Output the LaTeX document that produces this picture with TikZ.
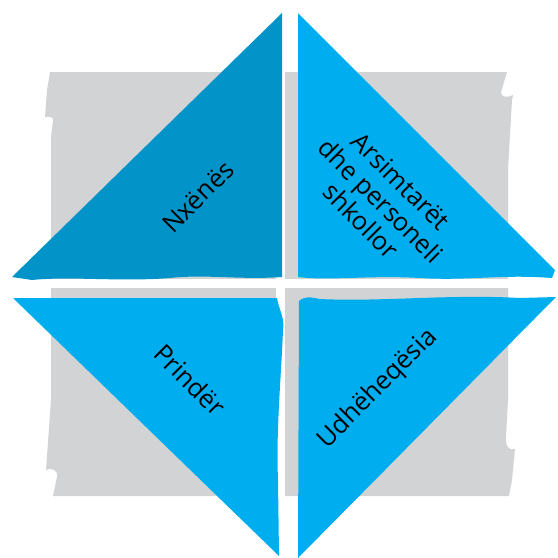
\documentclass[tikz,border=0pt]{standalone}
\usepackage{fontspec}
\setmainfont{Open Sans}
\definecolor{darkblue}{HTML}{0294C8}
\definecolor{lightblue}{HTML}{00AEEF}
\definecolor{panelgray}{HTML}{D1D3D4}

\begin{document}
\begin{tikzpicture}[x=1pt, y=-1pt,
			darktri/.style={fill=darkblue},
			lighttri/.style={fill=lightblue},
			caption/.style={font=\fontsize{25.5}{28}\selectfont, text=black, align=center, inner sep=0pt},
		]
		
			\useasboundingbox (0,0) rectangle (558,558);
			
			%Background
			\fill[panelgray] (50,72) -- (47,90) -- (45,117) .. controls (49,116) and (54,117) .. (53,121) -- (51,137) -- (51,400) -- (46,470) .. controls (50,467) and (59,470) .. (57,477) -- (53,496) -- (509,496) -- (512,480) -- (515,449) .. controls (510,451) and (505,447) .. (506,437) -- (508,400) -- (508,170) -- (512,100) -- (513,95) .. controls (508,98) and (500,97) .. (501,92) -- (507,72) -- cycle;
			\fill[white] (0,279) rectangle (558,288);
			\fill[white] (276,60) rectangle (285,558);
		
			%Triangles
			\fill[darktri] (12,277) -- (282,13) -- (282,277) .. controls (240,280) and (205,274) .. (170,278) .. controls (120,282) and (70,276) .. (32,280) -- cycle;
			\fill[lighttri] (298,13) -- (555,270) -- (552,278) .. controls (500,274) and (470,281) .. (420,278) .. controls (370,275) and (330,281) .. (298,277) -- cycle;
			\fill[lighttri] (13,298) -- (277,298) .. controls (279,310) and (285,318) .. (283,330) .. controls (281,380) and (276,430) .. (278,480) -- (279,556) -- cycle;
			\fill[lighttri] (299,301) .. controls (305,296) and (310,297) .. (320,299) .. controls (380,302) and (450,294) .. (520,298) -- (556,297) -- (298,558) -- cycle;
		
			%Nodes
			\node[caption, rotate=45]	(pupils)	at (198,197)	{Nxënës};
			\node[caption, rotate=-45]	(staff)		at (381,201)	{Arsimtarët\\dhe personeli\\shkollor};
			\node[caption, rotate=-45]	(parents)	at (190,380)	{Prindër};
			\node[caption, rotate=45]	(leaders)	at (378,389)	{Udhëheqësia};
		
		\end{tikzpicture}
\end{document}
